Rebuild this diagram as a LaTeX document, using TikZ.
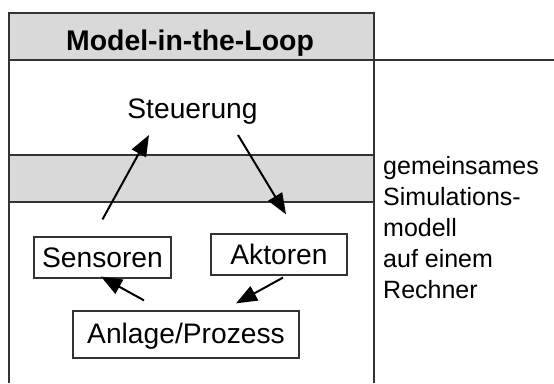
\documentclass[tikz,border=0pt]{standalone}
\usepackage{fontspec}
\setmainfont{Liberation Sans}
\usetikzlibrary{arrows.meta,calc}
\definecolor{panel}{HTML}{D9D9D9}
\definecolor{rule}{HTML}{333333}
\begin{document}
\begin{tikzpicture}[x=1pt,y=-1pt,
  frame/.style={draw=rule,line width=1.5pt},
  blockbox/.style={draw=rule,line width=1.2pt,fill=white,inner sep=0pt,
    text height=20pt,text depth=1pt,minimum height=41pt,
    font=\fontsize{28.2}{32}\selectfont},
  label/.style={inner sep=0pt,font=\fontsize{28.2}{32}\selectfont},
  flow/.style={line width=2pt,-{Triangle[length=21pt,width=16pt]}},
]
\useasboundingbox (0,0) rectangle (554,383);
% grey title bar and grey middle band
\fill[panel] (9,13) rectangle (374,60);
\fill[panel] (9,155) rectangle (374,202);
% frame lines
\draw[frame] (9,383) -- (9,13) -- (374,13) -- (374,383);
\draw[frame] (9,60) -- (554,60);
\draw[frame] (9,155) -- (374,155);
\draw[frame] (9,202) -- (374,202);

\node[label,font=\bfseries\fontsize{28.4}{32}\selectfont,anchor=base] (title) at (190,50) {Model-in-the-Loop};
\node[label,anchor=base] (ctrl) at (192.5,118) {Steuerung};

\node[blockbox,minimum width=137pt] (sens) at (102.5,257.5) {Sensoren};
\node[blockbox,minimum width=136pt] (akt) at (279,254.5) {Aktoren};
\node[blockbox,minimum width=226pt,minimum height=47pt,text depth=3pt] (proc) at (186,334.5) {Anlage/Prozess};

\node[inner sep=0pt,anchor=north west,align=left,
  font=\fontsize{25}{31}\selectfont] (note) at (383,156)
  {gemeinsames\\Simulations-\\modell\\auf einem\\Rechner};

% signal loop
\draw[flow] ([yshift=17pt]sens.north) -- ([xshift=-43.5pt,yshift=-17pt]ctrl.base);
\draw[flow] ([xshift=45.5pt,yshift=-17pt]ctrl.base) -- ([xshift=7pt,yshift=19pt]akt.north);
\draw[flow] ([xshift=4pt,yshift=-2pt]akt.south) -- ([xshift=50pt,yshift=7pt]proc.north);
\draw[flow] ([xshift=-42pt,yshift=10pt]proc.north) -- ([xshift=-1.5pt,yshift=2pt]sens.south);
\end{tikzpicture}
\end{document}
